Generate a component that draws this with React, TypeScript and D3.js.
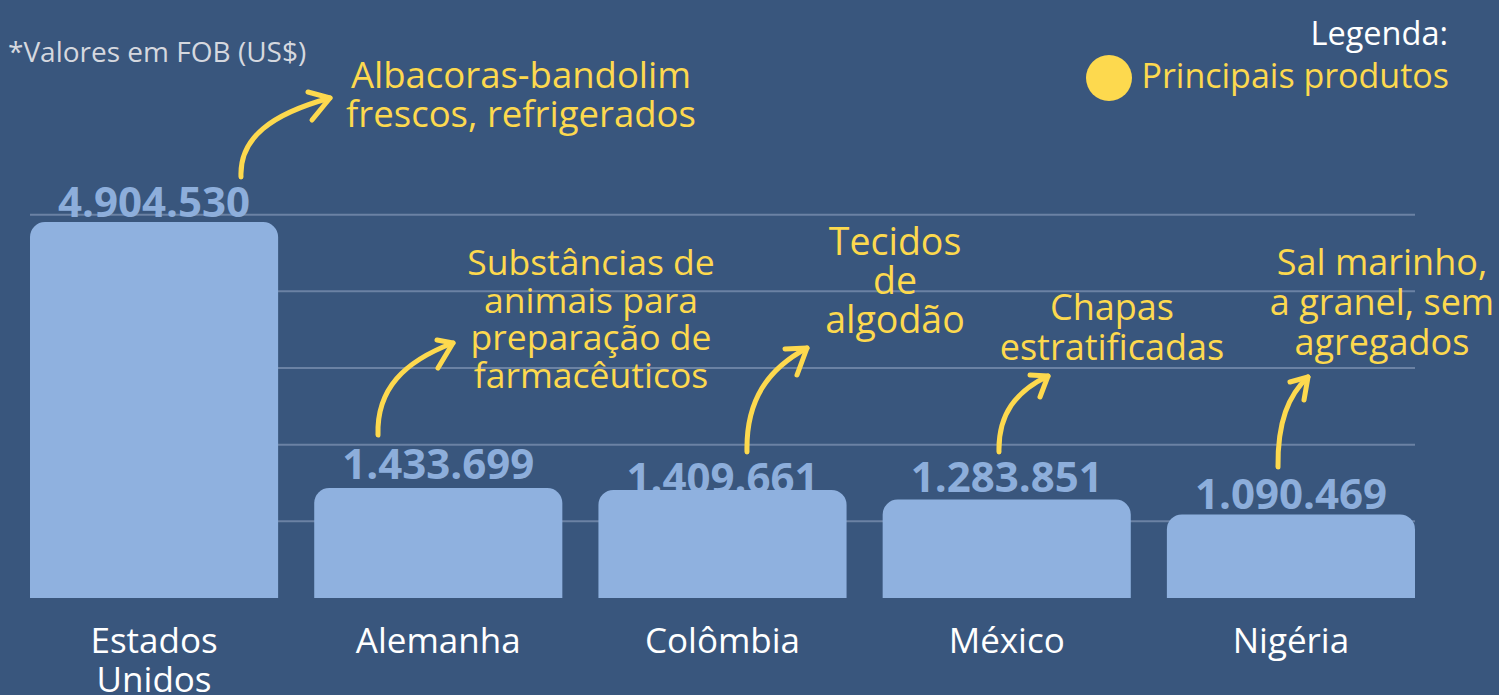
import React, { useEffect } from "react";
import * as d3 from "d3";

const categories = ["Estados Unidos", "Alemanha", "Colômbia", "México", "Nigéria"];
const categoryLines = [["Estados", "Unidos"], ["Alemanha"], ["Colômbia"], ["México"], ["Nigéria"]];
const values = [4904530, 1433699, 1409661, 1283851, 1090469];
const gridTicks = [1000000, 2000000, 3000000, 4000000, 5000000];
const productLines = [
  ["Albacoras-bandolim", "frescos, refrigerados"],
  ["Substâncias de", "animais para", "preparação de", "farmacêuticos"],
  ["Tecidos", "de", "algodão"],
  ["Chapas", "estratificadas"],
  ["Sal marinho,", "a granel, sem", "agregados"],
];

// layout of annotations (pixels)
const noteCenters = [521, 591, 895, 1112, 1382];
const noteFirstBaseline = [88, 275, 255, 320, 275];
const noteLineHeight = [39, 37.5, 39, 40, 40];
const noteFontSize = [36.5, 35.5, 37.5, 36, 36];
const arrowStarts = [[241, 177], [378, 435], [747, 452], [999, 452], [1278, 467]];
const arrowTips = [[330, 98], [453, 343], [807, 348], [1048, 376], [1308, 377]];
const arrowArmA = [[308, 92], [437, 340], [785, 349], [1030, 375], [1290, 382]];
const arrowArmB = [[312, 120], [438, 368], [797, 375], [1040, 397], [1304, 400]];
const labelDy = [-5, -9, 3, -8, -5];

const W = 1499;
const H = 695;
const BG = "#39567D";
const BAR = "#8FB1DF";
const YELLOW = "#FDD94E";
const FONT = "'Open Sans', 'Noto Sans', sans-serif";

export default function App() {
  useEffect(() => {
    document.body.style.margin = "0";
    document.body.style.overflow = "hidden";
  }, []);

  const x = d3.scaleBand<string>().domain(categories).range([30, 1415]).paddingInner(0.127).paddingOuter(0);
  const y = d3.scaleLinear().domain([0, 5000000]).range([598, 598 - 5 * 76.66]);
  const r = 15;

  const barPath = (i: number) => {
    const x0 = x(categories[i])!;
    const w = x.bandwidth();
    const y0 = y(values[i]);
    const yb = y(0);
    const p = d3.path();
    p.moveTo(x0, yb);
    p.lineTo(x0, y0 + r);
    p.arcTo(x0, y0, x0 + r, y0, r);
    p.lineTo(x0 + w - r, y0);
    p.arcTo(x0 + w, y0, x0 + w, y0 + r, r);
    p.lineTo(x0 + w, yb);
    p.closePath();
    return p.toString();
  };

  const arrowPath = (i: number) => {
    const [sx, sy] = arrowStarts[i];
    const [tx, ty] = arrowTips[i];
    const w = tx - sx;
    const h = sy - ty;
    const p = d3.path();
    p.moveTo(sx, sy);
    p.bezierCurveTo(sx - 0.02 * w, sy - 0.5 * h, sx + 0.35 * w, ty + 0.2 * h, tx, ty);
    return p.toString();
  };

  const headPath = (i: number) => {
    const line = d3.line();
    return line([arrowArmA[i] as [number, number], arrowTips[i] as [number, number], arrowArmB[i] as [number, number]]) || "";
  };

  return (
    <svg width={W} height={H} style={{ display: "block" }} xmlns="http://www.w3.org/2000/svg">
      <rect x={0} y={0} width={W} height={H} fill={BG} />

      {gridTicks.map((t) => (
        <line key={t} x1={30} x2={1415} y1={y(t)} y2={y(t)} stroke="#6B82A4" strokeWidth={2} />
      ))}

      {values.map((v, i) => (
        <text
          key={"v" + i}
          x={x(categories[i])! + x.bandwidth() / 2}
          y={y(v) + labelDy[i]}
          textAnchor="middle"
          fontFamily={FONT}
          fontWeight={700}
          fontSize={42}
          fill="#8DAEDB"
        >
          {d3.format(",")(v).replace(/,/g, ".")}
        </text>
      ))}

      {values.map((v, i) => (
        <path key={"b" + i} d={barPath(i)} fill={BAR} />
      ))}

      {categoryLines.map((lines, i) =>
        lines.map((ln, j) => (
          <text
            key={"c" + i + j}
            x={x(categories[i])! + x.bandwidth() / 2}
            y={653 + j * 39}
            textAnchor="middle"
            fontFamily={FONT}
            fontSize={35}
            fill="#FFFFFF"
          >
            {ln}
          </text>
        ))
      )}

      {productLines.map((lines, i) =>
        lines.map((ln, j) => (
          <text
            key={"p" + i + j}
            x={noteCenters[i]}
            y={noteFirstBaseline[i] + j * noteLineHeight[i]}
            textAnchor="middle"
            fontFamily={FONT}
            fontSize={noteFontSize[i]}
            fill={YELLOW}
          >
            {ln}
          </text>
        ))
      )}

      {arrowStarts.map((_, i) => (
        <g key={"a" + i} fill="none" stroke={YELLOW} strokeWidth={5} strokeLinecap="round" strokeLinejoin="round">
          <path d={arrowPath(i)} />
          <path d={headPath(i)} />
        </g>
      ))}

      <text x={8} y={62} fontFamily={FONT} fontSize={28} fill="#D5D8DF">
        *Valores em FOB (US$)
      </text>

      <text x={1448} y={45} textAnchor="end" fontFamily={FONT} fontSize={32.5} fill="#FFFFFF">
        Legenda:
      </text>
      <circle cx={1109} cy={78} r={23} fill={YELLOW} />
      <text x={1449} y={88} textAnchor="end" fontFamily={FONT} fontSize={34} fill={YELLOW}>
        Principais produtos
      </text>
    </svg>
  );
}
